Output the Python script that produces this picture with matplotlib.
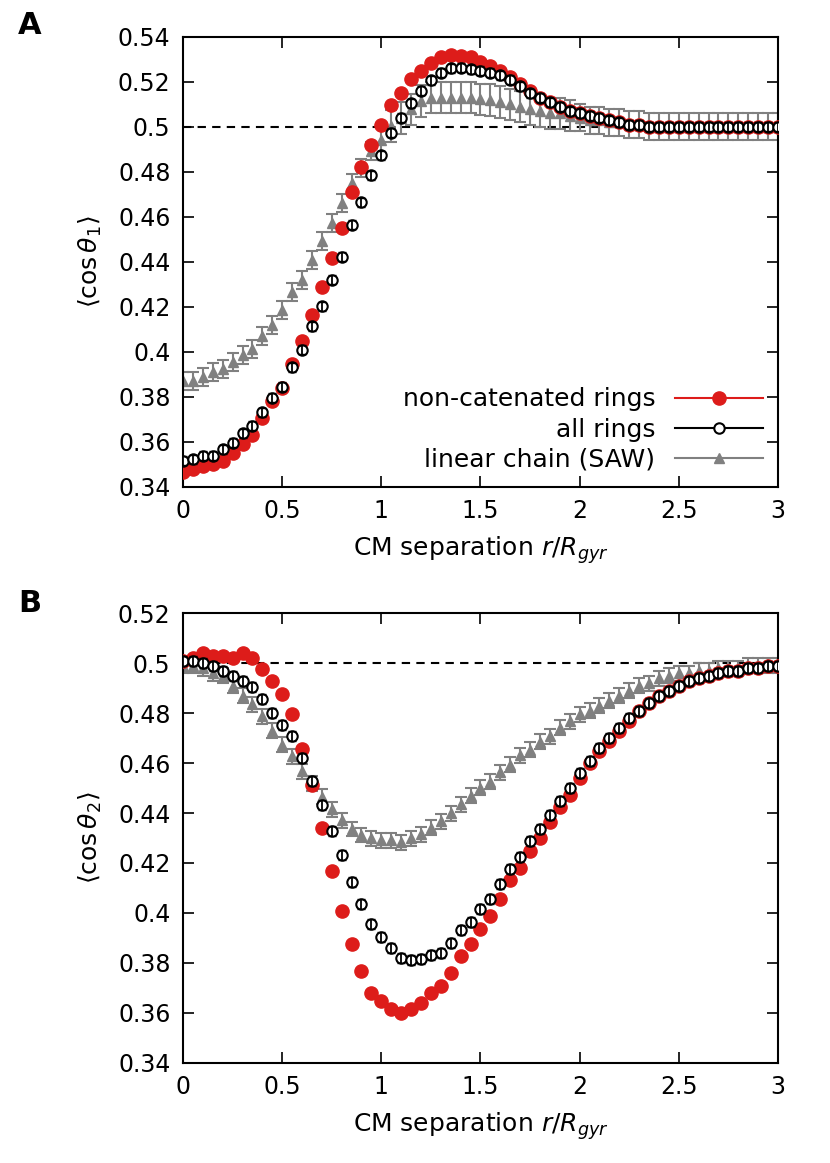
import numpy as np
import matplotlib
matplotlib.use("Agg")
import matplotlib.pyplot as plt
from matplotlib.lines import Line2D
from matplotlib.ticker import FormatStrFormatter, MultipleLocator

r = np.round(np.arange(61) * 0.05, 2)

# panel A: <cos theta_1>
a_noncat = [0.3465, 0.348, 0.3494, 0.350, 0.3516, 0.3553, 0.359, 0.3632, 0.3706, 0.3784,
            0.384, 0.3947, 0.4048, 0.4163, 0.4289, 0.4419, 0.455, 0.4709, 0.4822, 0.4922,
            0.5011, 0.5096, 0.5152, 0.5212, 0.5249, 0.5286, 0.5309, 0.532, 0.5316, 0.5309,
            0.529, 0.527, 0.525, 0.522, 0.519, 0.516, 0.513, 0.511, 0.509, 0.507,
            0.506, 0.505, 0.504, 0.503, 0.502, 0.501, 0.501] + [0.500] * 14
a_all = [0.3516, 0.3524, 0.3538, 0.3538, 0.3568, 0.3597, 0.3639, 0.3672, 0.3732, 0.3796,
         0.3846, 0.3932, 0.401, 0.4114, 0.4203, 0.4322, 0.4423, 0.4565, 0.4666, 0.4785,
         0.4874, 0.4974, 0.5041, 0.5105, 0.516, 0.5207, 0.5242, 0.526, 0.5264, 0.5257,
         0.5249, 0.524, 0.523, 0.521, 0.518, 0.515, 0.513, 0.511, 0.509, 0.507,
         0.506, 0.505, 0.504, 0.503, 0.502, 0.501, 0.501] + [0.500] * 14
a_saw = [0.3873, 0.3873, 0.3888, 0.391, 0.3925, 0.3955, 0.3985, 0.4014, 0.407, 0.4118,
         0.4185, 0.4267, 0.4322, 0.4409, 0.4493, 0.4575, 0.4664, 0.4751, 0.4818, 0.4892,
         0.4944, 0.5004, 0.5041, 0.5078, 0.5115, 0.513, 0.513, 0.513, 0.513, 0.513,
         0.5123, 0.512, 0.511, 0.510, 0.509, 0.508, 0.507, 0.506, 0.506, 0.505,
         0.504, 0.503, 0.503, 0.502, 0.502, 0.501, 0.501] + [0.500] * 14
a_saw_err = [0.004] * 20 + [0.007] * 20 + [0.006] * 21

# panel B: <cos theta_2>
b_noncat = [0.501, 0.502, 0.504, 0.503, 0.503, 0.502, 0.504, 0.502, 0.4976, 0.4929,
            0.4875, 0.4797, 0.4657, 0.4513, 0.4341, 0.4168, 0.4006, 0.3875, 0.3768, 0.3681,
            0.3647, 0.3614, 0.360, 0.3614, 0.3641, 0.3678, 0.3708, 0.3761, 0.3826, 0.3875,
            0.3936, 0.3987, 0.4054, 0.413, 0.4181, 0.4247, 0.4298, 0.4363, 0.4426, 0.4473,
            0.454, 0.460, 0.465, 0.469, 0.473, 0.477, 0.481, 0.484, 0.487, 0.489,
            0.491, 0.493, 0.494, 0.495, 0.496, 0.497, 0.497, 0.498, 0.498, 0.499, 0.499]
b_all = [0.501, 0.501, 0.500, 0.499, 0.497, 0.495, 0.493, 0.4905, 0.4855, 0.480,
         0.4754, 0.4707, 0.462, 0.4529, 0.4432, 0.4329, 0.4231, 0.4124, 0.4036, 0.3956,
         0.3905, 0.3858, 0.3819, 0.381, 0.3815, 0.383, 0.384, 0.388, 0.393, 0.3965,
         0.4016, 0.4057, 0.4117, 0.4177, 0.4224, 0.4287, 0.4336, 0.4392, 0.4448, 0.450,
         0.456, 0.461, 0.466, 0.470, 0.474, 0.478, 0.481, 0.484, 0.487, 0.489,
         0.491, 0.493, 0.494, 0.495, 0.496, 0.497, 0.497, 0.498, 0.498, 0.499, 0.499]
b_saw = [0.499, 0.499, 0.498, 0.496, 0.495, 0.491, 0.4869, 0.4835, 0.4788, 0.473,
         0.4674, 0.4627, 0.4567, 0.452, 0.4466, 0.4416, 0.4372, 0.4336, 0.4312, 0.4298,
         0.4291, 0.4291, 0.4282, 0.4298, 0.4314, 0.4341, 0.4368, 0.4399, 0.4435, 0.447,
         0.4502, 0.4526, 0.4564, 0.4593, 0.4631, 0.4654, 0.4685, 0.4707, 0.4741, 0.4768,
         0.4795, 0.481, 0.483, 0.485, 0.487, 0.489, 0.491, 0.492, 0.494, 0.495,
         0.496, 0.496, 0.497, 0.497, 0.498, 0.498, 0.498, 0.499, 0.499, 0.499, 0.499]
b_saw_err = [0.003] * 61

RED = "#dd1c1a"
GRAY = "#808080"

fig = plt.figure(figsize=(8.3, 11.63), dpi=100)
axA = fig.add_axes([0.2205, 0.5813, 0.7168, 0.3869])
axB = fig.add_axes([0.2205, 0.0860, 0.7168, 0.3869])


def draw(ax, noncat, allr, saw, saw_err):
    ax.axhline(0.5, color="black", ls=(0, (4, 3)), lw=1.5, zorder=1)
    ax.errorbar(r, saw, yerr=saw_err, fmt="^", color=GRAY, ms=7, capsize=4,
                elinewidth=1.5, capthick=1.5, zorder=2)
    ax.plot(r, noncat, "o", color=RED, ms=9.5, zorder=3)
    ax.plot(r, allr, "o", mfc="white", mec="black", mew=1.5, ms=7.5, zorder=4)
    # error bars of "all rings" drawn over the open circles
    ax.errorbar(r, allr, yerr=0.002, fmt="none", ecolor="black", capsize=3,
                elinewidth=1.3, zorder=5)
    ax.set_xlim(0, 3)
    ax.xaxis.set_major_locator(MultipleLocator(0.5))
    ax.yaxis.set_major_locator(MultipleLocator(0.02))
    ax.xaxis.set_major_formatter(FormatStrFormatter("%g"))
    ax.yaxis.set_major_formatter(FormatStrFormatter("%g"))
    ax.tick_params(direction="in", top=True, right=True, length=8, width=1.2,
                   labelsize=17, pad=9)
    for s in ax.spines.values():
        s.set_linewidth(1.5)
    ax.set_xlabel(r"CM separation $r/R_{gyr}$", fontsize=18, labelpad=8)


draw(axA, a_noncat, a_all, a_saw, a_saw_err)
axA.set_ylim(0.34, 0.54)
axA.set_ylabel(r"$\langle\cos\theta_1\rangle$", fontsize=18, labelpad=10)
handles = [
    Line2D([], [], color=RED, marker="o", ms=9.5, lw=1.5),
    Line2D([], [], color="black", marker="o", mfc="white", ms=7.5, mew=1.5, lw=1.5),
    Line2D([], [], color=GRAY, marker="^", ms=7, lw=1.5),
]
labels = ["non-catenated rings", "all rings", "linear chain (SAW)"]
axA.legend(handles, labels, loc="lower right", frameon=False, fontsize=18,
           markerfirst=False, handlelength=3.5, borderaxespad=0.2,
           labelspacing=0.25, handletextpad=0.8)

draw(axB, b_noncat, b_all, b_saw, b_saw_err)
axB.set_ylim(0.34, 0.52)
axB.set_ylabel(r"$\langle\cos\theta_2\rangle$", fontsize=18, labelpad=10)

fig.text(0.022, 0.978, "A", fontsize=22, fontweight="bold", va="center")
fig.text(0.022, 0.481, "B", fontsize=22, fontweight="bold", va="center")

fig.savefig("out.png", dpi=100)
